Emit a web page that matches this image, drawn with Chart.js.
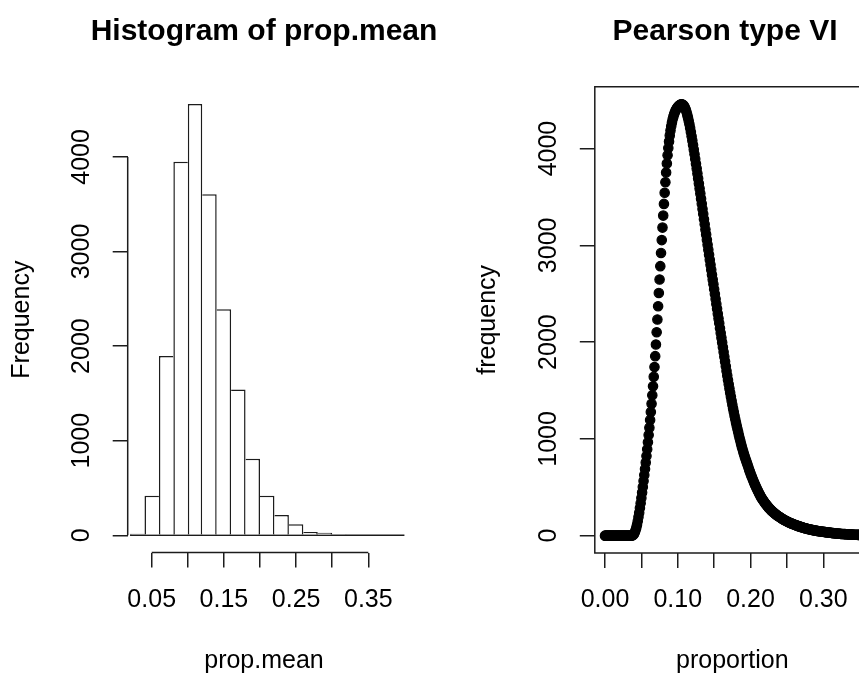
<!DOCTYPE html>
<html><head><meta charset="utf-8">
<script src="https://cdn.jsdelivr.net/npm/chart.js@4"></script>
<style>
html,body{margin:0;padding:0;background:#fff;overflow:hidden;width:859px;height:677px;}
#wrap{position:relative;width:859px;height:677px;overflow:hidden;background:#fff;}
canvas{position:absolute;top:0;}
#c1{left:0;width:528px;height:677px;}
#c2{left:423px;width:604px;height:677px;}
</style></head><body>
<div id="wrap"><canvas id="c1" width="528" height="677"></canvas><canvas id="c2" width="604" height="677"></canvas></div>
<script>
// ---------- Histogram of prop.mean ----------
const binBreaks = [0.02,0.04,0.06,0.08,0.10,0.12,0.14,0.16,0.18,0.20,0.22,0.24,0.26,0.28,0.30,0.32,0.34,0.36,0.38,0.40];
const binCounts = [15,419,1895,3949,4559,3605,2390,1540,810,419,215,116,35,27,12,8,0,0,0];
const histXTicks = [0.05,0.10,0.15,0.20,0.25,0.30,0.35];
const histXTickLabels = ['0.05','','0.15','','0.25','','0.35'];
const histYTicks = [0,1000,2000,3000,4000];
const histYTickLabels = ['0','1000','2000','3000','4000'];

// ---------- Pearson type VI ----------
const proportion = [
0.000,0.001,0.002,0.003,0.004,0.005,0.006,0.007,0.008,0.009,
0.010,0.011,0.012,0.013,0.014,0.015,0.016,0.017,0.018,0.019,
0.020,0.021,0.022,0.023,0.024,0.025,0.026,0.027,0.028,0.029,
0.030,0.031,0.032,0.033,0.034,0.035,0.036,0.037,0.038,0.039,
0.040,0.041,0.042,0.043,0.044,0.045,0.046,0.047,0.048,0.049,
0.050,0.051,0.052,0.053,0.054,0.055,0.056,0.057,0.058,0.059,
0.060,0.061,0.062,0.063,0.064,0.065,0.066,0.067,0.068,0.069,
0.070,0.071,0.072,0.073,0.074,0.075,0.076,0.077,0.078,0.079,
0.080,0.081,0.082,0.083,0.084,0.085,0.086,0.087,0.088,0.089,
0.090,0.091,0.092,0.093,0.094,0.095,0.096,0.097,0.098,0.099,
0.100,0.101,0.102,0.103,0.104,0.105,0.106,0.107,0.108,0.109,
0.110,0.111,0.112,0.113,0.114,0.115,0.116,0.117,0.118,0.119,
0.120,0.121,0.122,0.123,0.124,0.125,0.126,0.127,0.128,0.129,
0.130,0.131,0.132,0.133,0.134,0.135,0.136,0.137,0.138,0.139,
0.140,0.141,0.142,0.143,0.144,0.145,0.146,0.147,0.148,0.149,
0.150,0.151,0.152,0.153,0.154,0.155,0.156,0.157,0.158,0.159,
0.160,0.161,0.162,0.163,0.164,0.165,0.166,0.167,0.168,0.169,
0.170,0.171,0.172,0.173,0.174,0.175,0.176,0.177,0.178,0.179,
0.180,0.181,0.182,0.183,0.184,0.185,0.186,0.187,0.188,0.189,
0.190,0.191,0.192,0.193,0.194,0.195,0.196,0.197,0.198,0.199,
0.200,0.201,0.202,0.203,0.204,0.205,0.206,0.207,0.208,0.209,
0.210,0.211,0.212,0.213,0.214,0.215,0.216,0.217,0.218,0.219,
0.220,0.221,0.222,0.223,0.224,0.225,0.226,0.227,0.228,0.229,
0.230,0.231,0.232,0.233,0.234,0.235,0.236,0.237,0.238,0.239,
0.240,0.241,0.242,0.243,0.244,0.245,0.246,0.247,0.248,0.249,
0.250,0.251,0.252,0.253,0.254,0.255,0.256,0.257,0.258,0.259,
0.260,0.261,0.262,0.263,0.264,0.265,0.266,0.267,0.268,0.269,
0.270,0.271,0.272,0.273,0.274,0.275,0.276,0.277,0.278,0.279,
0.280,0.281,0.282,0.283,0.284,0.285,0.286,0.287,0.288,0.289,
0.290,0.291,0.292,0.293,0.294,0.295,0.296,0.297,0.298,0.299,
0.300,0.301,0.302,0.303,0.304,0.305,0.306,0.307,0.308,0.309,
0.310,0.311,0.312,0.313,0.314,0.315,0.316,0.317,0.318,0.319,
0.320,0.321,0.322,0.323,0.324,0.325,0.326,0.327,0.328,0.329,
0.330,0.331,0.332,0.333,0.334,0.335,0.336,0.337,0.338,0.339,
0.340,0.341,0.342,0.343,0.344,0.345,0.346,0.347,0.348,0.349,
0.350];
const frequency = [
0,0,0,0,0,0,0,0,0,0,
0,0,0,0,0,0,0,0,0,0,
0,0,0,0,0,0,0,0,0,0,
0,0,0,0,0,0,0,1,4,10,
20,35,55,81,113,150,192,237,285,336,
390,446,504,564,626,690,756,824,894,966,
1040,1116,1195,1277,1362,1451,1544,1641,1743,1855,
1975,2102,2234,2370,2508,2647,2785,2921,3054,3183,
3307,3428,3543,3651,3752,3845,3930,4006,4074,4134,
4186,4231,4270,4303,4331,4355,4375,4392,4407,4419,
4429,4438,4445,4451,4455,4458,4456,4452,4445,4434,
4419,4400,4377,4350,4320,4287,4251,4212,4171,4128,
4083,4037,3990,3942,3893,3843,3793,3742,3691,3639,
3587,3535,3482,3429,3376,3323,3270,3217,3164,3111,
3058,3006,2954,2902,2850,2799,2748,2697,2647,2597,
2547,2496,2445,2394,2344,2294,2244,2194,2144,2094,
2044,1995,1946,1897,1848,1799,1750,1702,1655,1609,
1564,1520,1477,1435,1394,1354,1315,1277,1240,1204,
1169,1135,1102,1070,1038,1007,977,948,920,893,
867,842,818,795,773,752,729,707,685,664,
643,623,603,584,565,547,529,512,495,479,
463,448,433,419,405,392,380,368,357,346,
336,326,316,307,298,289,281,273,265,258,
251,244,237,231,225,219,213,207,202,197,
192,187,182,177,173,168,164,160,156,152,
148,144,140,137,133,130,127,124,121,118,
115,112,109,106,104,101,98,96,93,91,
88,86,84,81,79,77,75,73,71,69,
67,66,64,62,61,59,57,56,54,53,
52,50,49,48,46,45,44,43,42,41,
40,39,38,37,36,35,34,33,32,31,
30,29,28,27,26,25,25,24,23,22,
22,21,20,20,19,18,18,17,17,16,
16,15,15,14,14,13,13,12,12,12,
11,11,10,10,10,9,9,9,8,8,
8];
const pearsonXTicks = [0.00,0.05,0.10,0.15,0.20,0.25,0.30];
const pearsonXTickLabels = ['0.00','','0.10','','0.20','','0.30'];
const pearsonYTicks = [0,1000,2000,3000,4000];
const pearsonYTickLabels = ['0','1000','2000','3000','4000'];

// ---------- styling ----------
const FONT = "'Liberation Sans', Arial, Helvetica, sans-serif";
const INK = '#1c1c1c';
const LW = 1.5;
Chart.defaults.font.family = FONT;
Chart.defaults.color = '#000';

const rAxes = {
  id: 'rAxes',
  afterDatasetsDraw(chart, args, o) {
    const {ctx, chartArea: a, scales: {x, y}} = chart;
    ctx.save();
    ctx.strokeStyle = INK; ctx.lineWidth = LW;
    ctx.beginPath();
    if (o.box) {
      ctx.rect(a.left, a.top, a.right - a.left, a.bottom - a.top);
    } else {
      ctx.moveTo(x.getPixelForValue(o.xTicks[0]), a.bottom);
      ctx.lineTo(x.getPixelForValue(o.xTicks[o.xTicks.length - 1]), a.bottom);
      ctx.moveTo(a.left, y.getPixelForValue(o.yTicks[0]));
      ctx.lineTo(a.left, y.getPixelForValue(o.yTicks[o.yTicks.length - 1]));
    }
    ctx.stroke();
    ctx.restore();
  }
};

function xScale(min, max, ticks, labels, title, height) {
  return {
    type: 'linear', min, max, offset: false,
    afterBuildTicks: s => { s.ticks = ticks.map(v => ({value: v})); },
    afterFit: s => { s.height = height; },
    grid: {offset: false, drawOnChartArea: false, drawTicks: true, tickLength: 15, color: INK, lineWidth: LW},
    border: {display: false},
    ticks: {autoSkip: false, maxRotation: 0, minRotation: 0, padding: 17.6,
      font: {size: 25, lineHeight: 1.2}, color: '#000',
      callback: (v, i) => labels[i]},
    title: {display: true, text: title, font: {size: 25, lineHeight: 1.2}, color: '#000', padding: {top: 0, bottom: 0.7}}
  };
}
function yScale(min, max, ticks, labels, title, width, titlePad) {
  return {
    type: 'linear', position: 'left', min, max,
    afterBuildTicks: s => { s.ticks = ticks.map(v => ({value: v})); },
    afterFit: s => { s.width = width; },
    grid: {drawOnChartArea: false, drawTicks: true, tickLength: 15, color: INK, lineWidth: LW},
    border: {display: false},
    ticks: {autoSkip: false, minRotation: 90, maxRotation: 90, crossAlign: 'center', padding: 3,
      font: {size: 25, lineHeight: 1.2}, color: '#000',
      callback: (v, i) => labels[i]},
    title: {display: true, text: title, font: {size: 25, lineHeight: 1.2}, color: '#000', padding: {top: titlePad, bottom: 0}}
  };
}
// empty right-hand margin box (R's right margin), so the title is centred like R's
function marginScale(width) {
  return {
    type: 'linear', position: 'right', display: true, min: 0, max: 1,
    afterFit: s => { s.width = width; },
    grid: {display: false}, border: {display: false}, ticks: {display: false}, title: {display: false}
  };
}
function titleOpts(text) {
  return {display: true, text, color: '#000', font: {size: 30, weight: 'bold', lineHeight: 1.2}, padding: {top: 14, bottom: 36.8}};
}

// histogram
const binMids = binCounts.map((c, i) => ({x: (binBreaks[i] + binBreaks[i + 1]) / 2, y: c}));
new Chart(document.getElementById('c1'), {
  type: 'bar',
  data: {datasets: [
    {type: 'bar', xAxisID: 'x', yAxisID: 'y', data: binMids, backgroundColor: '#fff', borderColor: INK,
     barPercentage: 1, categoryPercentage: 1, inflateAmount: 0, clip: false,
     borderSkipped: 'start',
     borderWidth: c => {
       const i = c.dataIndex, h = binCounts;
       if (i === undefined) return LW;
       return {top: LW, bottom: 0,
         left: (i === 0 || h[i] >= h[i - 1]) ? LW : 0,
         right: (i === h.length - 1 || h[i] > h[i + 1]) ? LW : 0};
     }},
    {type: 'line', xAxisID: 'x', yAxisID: 'y',
     data: [{x: binBreaks[0], y: 0}, {x: binBreaks[binBreaks.length - 1], y: 0}],
     borderColor: INK, borderWidth: LW, pointRadius: 0, clip: false}
  ]},
  options: {
    responsive: false, animation: false, devicePixelRatio: 1,
    layout: {padding: 0},
    plugins: {legend: {display: false}, tooltip: {enabled: false}, title: titleOpts('Histogram of prop.mean'),
      rAxes: {box: false, xTicks: histXTicks, yTicks: histYTicks}},
    scales: {
      x: xScale(0.01676, 0.3943, histXTicks, histXTickLabels, 'prop.mean', 124.5),
      y: yScale(-182, 4741, histYTicks, histYTickLabels, 'Frequency', 127.7, 7.3),
      yMargin: marginScale(127.7)
    }
  },
  plugins: [rAxes]
});

// Pearson type VI
new Chart(document.getElementById('c2'), {
  type: 'scatter',
  data: {datasets: [{
    xAxisID: 'x', yAxisID: 'y',
    data: proportion.map((p, i) => ({x: p, y: frequency[i]})),
    pointRadius: 4.7, pointBorderWidth: 1.2, pointBackgroundColor: '#000', pointBorderColor: '#000',
    pointStyle: 'circle', showLine: false, clip: false
  }]},
  options: {
    responsive: false, animation: false, devicePixelRatio: 1,
    layout: {padding: 0},
    plugins: {legend: {display: false}, tooltip: {enabled: false}, title: titleOpts('Pearson type VI'),
      rAxes: {box: true}},
    scales: {
      x: xScale(-0.014, 0.364, pearsonXTicks, pearsonXTickLabels, 'proportion', 124.1),
      y: yScale(-178, 4638, pearsonYTicks, pearsonYTickLabels, 'frequency', 171.8, 50.2),
      yMargin: marginScale(157.1)
    }
  },
  plugins: [rAxes]
});
</script>
</body></html>
